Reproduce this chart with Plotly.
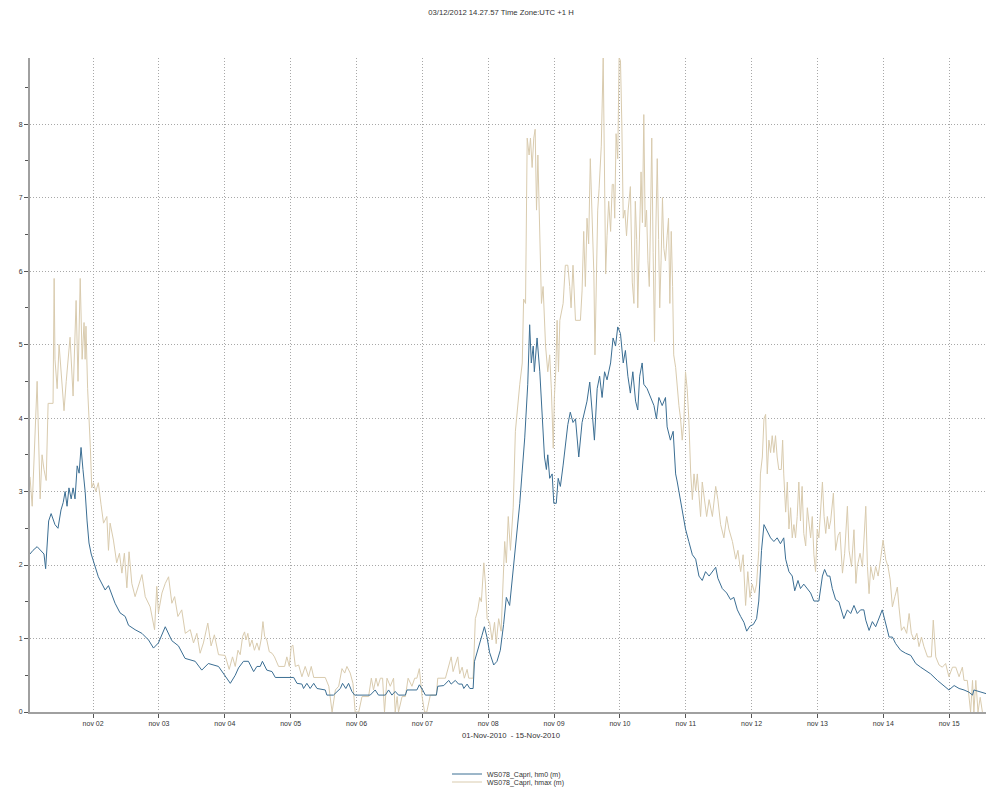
import pandas as pd
import plotly.graph_objects as go

# ---- data (hours after 01-Nov-2010 00:00, wave heights in m) ----
hm0_hours = [1.0, 2.1, 3.6, 5.0, 6.1, 6.7, 7.8, 8.7, 10.1, 11.2, 12.3, 13.1, 13.8, 14.5, 15.2, 16.0, 16.7, 17.4,
             18.2, 18.9, 19.6, 20.3, 21.1, 21.8, 22.5, 23.3, 24.2, 25.9, 28.4, 29.6, 32.0, 33.8, 35.7, 36.9, 39.3,
             41.8, 44.2, 46.0, 47.8, 50.3, 52.7, 55.1, 57.5, 61.2, 63.6, 66.0, 69.7, 72.1, 74.0, 75.8, 77.0, 78.8,
             80.6, 82.5, 83.7, 84.9, 85.7, 87.3, 89.2, 90.4, 97.1, 98.3, 100.1, 100.7, 101.9, 103.1, 104.4, 105.6,
             108.6, 109.2, 111.6, 114.1, 114.9, 116.1, 117.1, 118.3, 119.3, 125.0, 126.8, 128.0, 130.5, 131.7,
             132.9, 134.1, 135.3, 137.8, 138.4, 142.0, 142.9, 144.1, 145.1, 149.1, 149.6, 151.8, 153.6, 154.5,
             156.0, 157.2, 158.5, 159.1, 160.3, 161.3, 162.5, 163.0, 164.5, 165.7, 166.6, 167.6, 168.5, 170.0,
             171.2, 172.4, 173.6, 174.6, 175.8, 177.1, 178.3, 179.5, 180.3, 181.3, 182.4, 183.1, 183.7, 184.4,
             184.8, 185.8, 186.8, 187.6, 188.5, 189.2, 189.7, 190.4, 191.3, 191.9, 192.8, 193.5, 194.3, 195.3,
             196.1, 197.0, 197.9, 198.9, 199.8, 201.0, 202.2, 203.1, 204.0, 205.0, 205.9, 206.7, 207.7, 208.6,
             209.5, 210.4, 211.3, 212.6, 213.5, 214.4, 215.2, 216.2, 217.2, 218.0, 218.9, 219.8, 220.7, 221.7,
             222.5, 223.2, 224.1, 224.7, 225.9, 227.1, 228.4, 229.3, 230.2, 231.4, 232.6, 233.2, 234.4, 235.4,
             236.3, 236.9, 238.1, 239.1, 239.9, 241.1, 242.4, 243.6, 244.8, 246.0, 247.2, 248.5, 249.7, 250.9,
             251.7, 253.3, 254.9, 256.3, 257.5, 258.8, 260.0, 261.2, 262.2, 263.4, 264.6, 265.8, 266.6, 267.6,
             268.5, 269.7, 270.9, 272.1, 273.3, 274.5, 275.7, 276.4, 277.6, 278.8, 279.7, 280.9, 281.8, 283.0,
             284.3, 285.5, 286.7, 288.5, 289.8, 290.6, 291.6, 292.5, 293.4, 294.6, 295.8, 297.6, 298.9, 300.1,
             301.3, 302.5, 303.7, 304.9, 305.6, 306.8, 308.0, 309.2, 311.6, 312.9, 314.1, 315.3, 316.5, 318.3,
             320.1, 322.0, 323.8, 325.6, 327.4, 329.2, 331.7, 334.1, 335.9, 337.8, 339.6, 341.4, 343.2, 344.5,
             345.0, 351.2]
hm0_values = [2.15, 2.2, 2.25, 2.2, 2.15, 1.95, 2.6, 2.7, 2.55, 2.5, 2.75, 2.85, 3.0, 2.8, 3.05, 2.9, 3.05, 2.9,
              3.35, 3.25, 3.6, 3.3, 3.0, 2.6, 2.3, 2.15, 2.05, 1.84, 1.66, 1.72, 1.48, 1.35, 1.3, 1.18, 1.12,
              1.07, 0.98, 0.87, 0.94, 1.16, 0.97, 0.9, 0.73, 0.69, 0.57, 0.66, 0.62, 0.5, 0.39, 0.5, 0.6, 0.69,
              0.69, 0.55, 0.62, 0.62, 0.69, 0.57, 0.55, 0.47, 0.47, 0.39, 0.38, 0.32, 0.39, 0.32, 0.39, 0.32,
              0.3, 0.23, 0.23, 0.32, 0.39, 0.32, 0.39, 0.28, 0.23, 0.23, 0.3, 0.23, 0.23, 0.3,
              0.23, 0.28, 0.23, 0.23, 0.3, 0.3, 0.37, 0.3, 0.23, 0.23, 0.35, 0.36, 0.43, 0.38,
              0.43, 0.38, 0.38, 0.32, 0.38, 0.32, 0.32, 0.69, 0.87, 1.04, 1.16, 1.01, 0.81, 0.64,
              0.69, 0.84, 1.19, 1.56, 1.45, 1.91, 2.37, 2.84, 3.24, 3.73, 4.46, 5.27, 4.75, 4.98,
              4.63, 5.09, 4.63, 3.99, 3.47, 3.3, 3.5, 3.18, 3.24, 2.84, 2.84, 3.18, 3.07, 3.36,
              3.65, 3.91, 4.08, 3.94, 3.99, 3.47, 3.94, 4.11, 4.23, 4.49, 4.05, 3.7, 4.4, 4.57,
              4.28, 4.63, 4.52, 4.75, 5.09, 4.98, 5.24, 5.15, 4.75, 4.92, 4.57, 4.34, 4.63, 4.23,
              4.11, 4.57, 4.75, 4.46, 4.4, 4.28, 4.17, 3.99, 4.28, 4.17, 4.28, 3.88, 3.7, 3.82,
              3.24, 3.13, 2.89, 2.66, 2.49, 2.32, 2.14, 2.08, 1.85, 1.79, 1.91, 1.85, 1.91, 1.97,
              1.82, 1.68, 1.62, 1.53, 1.56, 1.39, 1.3, 1.22, 1.1, 1.17, 1.19, 1.27, 1.51, 2.2,
              2.55, 2.46, 2.37, 2.32, 2.37, 2.29, 2.37, 2.08, 1.91, 1.85, 1.65, 1.79, 1.68, 1.74,
              1.68, 1.62, 1.51, 1.51, 1.85, 1.94, 1.85, 1.85, 1.68, 1.53, 1.5, 1.27, 1.39, 1.34,
              1.45, 1.34, 1.39, 1.39, 1.25, 1.11, 1.23, 1.16, 1.39, 1.2, 1.02, 1.02, 0.93, 0.84,
              0.8, 0.77, 0.66, 0.61, 0.57, 0.52, 0.43, 0.36, 0.3, 0.36, 0.32, 0.3, 0.27, 0.23,
              0.3, 0.23]

hmax_hours = [1.0, 1.8, 3.6, 4.7, 5.4, 6.1, 6.9, 7.6, 9.4, 9.8, 10.1, 10.9, 11.6, 12.3, 13.4, 14.2, 15.6, 16.7,
              17.8, 18.5, 19.3, 20.0, 20.7, 21.1, 21.4, 22.0, 22.5, 23.0, 23.5, 24.1, 25.0, 25.9, 26.9, 27.8,
              29.0, 29.6, 30.2, 31.4, 32.6, 33.6, 34.5, 35.4, 36.3, 37.1, 38.1, 39.3, 41.8, 43.0, 44.8, 46.4,
              47.2, 47.8, 49.1, 50.3, 51.5, 52.7, 53.7, 54.9, 56.3, 57.6, 59.4, 60.6, 61.8, 63.0, 64.2, 65.8,
              67.0, 68.2, 69.7, 72.1, 73.6, 74.8, 75.8, 76.8, 77.6, 78.5, 79.2, 79.7, 80.4, 81.1, 81.9, 82.8,
              83.7, 84.5, 85.3, 85.9, 86.5, 87.3, 88.2, 89.2, 90.1, 91.6, 93.8, 94.6, 95.5, 96.2, 96.8, 97.7,
              98.9, 100.1, 101.3, 102.5, 103.5, 104.4, 108.6, 109.9, 111.1, 112.3, 113.5, 114.7, 115.7, 116.5,
              117.7, 118.7, 119.5, 120.8, 122.0, 124.4, 125.4, 126.2, 127.1, 127.8, 128.7, 129.5, 130.2, 131.1,
              132.3, 133.5, 134.1, 134.8, 135.3, 136.6, 137.8, 138.8, 140.2, 141.2, 142.0, 142.9, 143.9, 144.8,
              145.6, 146.9, 149.1, 149.6, 152.4, 153.2, 154.5, 155.2, 156.0, 156.9, 157.6, 158.5, 159.3, 160.3,
              160.9, 162.5, 163.3, 164.2, 164.9, 165.5, 166.4, 167.0, 167.6, 168.5, 169.4, 170.3, 170.9, 171.8,
              172.7, 173.4, 174.0, 174.6, 175.3, 176.1, 177.1, 177.9, 178.8, 179.5, 180.4, 180.9, 181.6, 182.2,
              182.9, 183.4, 184.0, 184.6, 185.1, 185.6, 186.1, 186.8, 187.4, 188.0, 188.9, 189.7, 190.4, 191.0,
              191.7, 192.1, 192.6, 193.1, 193.6, 194.1, 194.6, 195.3, 196.1, 197.0, 197.7, 198.2, 198.9, 199.8,
              201.6, 202.2, 202.8, 203.4, 204.0, 204.6, 205.2, 205.9, 206.5, 206.9, 207.4, 207.9, 208.4, 209.2,
              209.9, 210.4, 210.8, 211.3, 211.9, 212.6, 213.2, 213.7, 214.1, 214.6, 215.2, 215.7, 216.2, 216.7,
              217.2, 217.8, 218.4, 219.0, 219.8, 220.5, 221.1, 221.6, 222.1, 222.5, 223.2, 223.7, 224.2, 224.7,
              225.2, 225.7, 226.2, 226.7, 227.1, 227.6, 228.1, 228.6, 229.1, 229.6, 230.1, 230.5, 231.0, 231.5,
              232.0, 232.6, 233.2, 233.7, 234.2, 234.7, 235.2, 235.6, 236.3, 236.9, 237.5, 238.1, 238.7, 239.3,
              239.9, 240.5, 241.1, 241.8, 242.4, 243.0, 243.6, 244.2, 244.8, 245.4, 246.0, 246.9, 247.6, 248.5,
              249.7, 250.9, 251.7, 252.7, 253.9, 254.9, 255.7, 257.0, 258.2, 259.0, 260.0, 260.9, 261.8, 262.6,
              263.4, 264.2, 265.1, 265.8, 266.6, 267.2, 267.9, 268.5, 269.1, 269.7, 270.3, 270.9, 271.5, 272.1,
              272.7, 273.3, 273.9, 274.8, 275.3, 275.7, 276.4, 277.0, 277.6, 278.2, 278.8, 279.4, 280.0, 280.6,
              281.2, 281.8, 282.4, 283.0, 283.7, 284.3, 284.9, 285.5, 286.1, 286.7, 287.3, 287.9, 288.5, 289.2,
              289.8, 290.4, 291.0, 291.6, 292.2, 292.8, 293.8, 294.6, 295.5, 296.2, 297.1, 297.9, 298.9, 299.5,
              300.4, 301.3, 302.0, 302.5, 303.5, 304.4, 305.6, 306.2, 306.8, 307.4, 308.4, 309.2, 310.1, 311.1,
              311.9, 312.9, 313.7, 314.5, 315.3, 316.2, 317.1, 317.7, 318.6, 319.5, 320.5, 321.4, 322.2, 323.2,
              324.2, 325.0, 325.9, 326.8, 328.1, 329.5, 330.2, 331.1, 332.3, 333.5, 334.7, 335.9, 337.2, 338.4,
              339.6, 340.8, 341.4, 342.6, 343.8, 344.5, 345.0, 345.7, 346.5, 347.3, 348.1]
hmax_values = [3.2, 2.8, 4.5, 2.9, 3.5, 3.3, 3.15, 4.2, 4.2, 5.9, 4.8, 4.4, 5.0, 4.6, 4.1, 4.5, 5.1, 4.3,
               5.6, 4.5, 5.9, 4.8, 5.3, 4.8, 5.25, 4.4, 4.05, 3.6, 3.05, 3.12, 3.0, 3.12, 2.82, 2.57,
               2.66, 2.2, 2.57, 2.34, 2.03, 2.16, 1.89, 2.16, 1.69, 2.18, 1.75, 1.57, 1.87, 1.57, 1.43, 1.12,
               1.71, 1.35, 1.62, 1.75, 1.84, 1.48, 1.57, 1.3, 1.39, 1.07, 1.12, 0.94, 1.07, 0.8, 0.94, 1.21,
               0.9, 1.05, 0.78, 0.77, 0.58, 0.75, 0.62, 0.84, 0.78, 1.03, 1.09, 0.98, 1.07, 0.89, 0.98, 0.84,
               0.94, 0.84, 1.0, 1.23, 1.03, 0.98, 0.82, 0.8, 0.75, 0.62, 0.62, 0.75, 0.62, 0.89, 0.91, 0.62,
               0.64, 0.48, 0.62, 0.48, 0.62, 0.47, 0.47, 0.35, 0.0, 0.3, 0.35, 0.59, 0.53, 0.62,
               0.53, 0.39, 0.0, 0.0, 0.21, 0.21, 0.46, 0.3, 0.46, 0.35, 0.46, 0.46, 0.0, 0.46,
               0.35, 0.46, 0.0, 0.21, 0.0, 0.21, 0.21, 0.46, 0.35, 0.46, 0.46, 0.59, 0.21, 0.0,
               0.0, 0.23, 0.23, 0.46, 0.46, 0.58, 0.75, 0.55, 0.64, 0.75, 0.52, 0.61, 0.46, 0.58,
               0.46, 0.46, 1.27, 1.39, 1.56, 1.5, 2.03, 1.74, 1.27, 1.22, 0.98, 1.22, 0.93, 1.27,
               1.1, 1.79, 2.32, 2.03, 2.66, 2.2, 2.78, 3.82, 4.23, 4.46, 4.75, 5.62, 5.56, 7.81,
               7.58, 7.81, 7.41, 7.81, 7.93, 6.83, 7.58, 6.25, 5.56, 5.79, 4.98, 4.63, 4.86, 4.4,
               3.59, 4.28, 4.63, 5.33, 4.63, 5.33, 5.44, 5.56, 6.08, 6.08, 5.79, 5.5, 6.08, 5.33,
               5.33, 5.73, 6.54, 5.79, 6.72, 6.37, 7.53, 6.72, 5.96, 4.86, 6.02, 6.83, 7.12, 7.7,
               8.91, 7.47, 5.96, 6.48, 6.95, 6.54, 7.18, 7.18, 6.72, 7.87, 7.53, 8.91, 8.86, 7.99,
               6.72, 6.83, 6.48, 6.83, 7.15, 5.85, 5.56, 6.95, 6.43, 5.5, 6.72, 7.35, 6.66, 8.13,
               6.6, 6.83, 6.14, 5.79, 6.6, 7.81, 6.25, 5.04, 6.6, 7.53, 6.43, 5.5, 6.14, 7.0,
               6.31, 6.14, 6.48, 6.72, 5.56, 6.54, 5.79, 4.86, 4.69, 4.4, 4.17, 3.99, 3.7, 3.94,
               4.63, 4.4, 3.99, 3.24, 2.89, 3.24, 3.01, 3.24, 2.89, 2.66, 3.13, 2.89, 2.66, 2.89,
               2.66, 3.07, 2.89, 2.55, 2.37, 2.66, 2.49, 2.32, 2.08, 2.2, 1.91, 2.14, 1.45, 1.91,
               1.56, 1.74, 1.62, 1.74, 2.2, 3.24, 3.47, 3.99, 4.05, 3.24, 3.7, 3.53, 3.76, 3.53,
               3.76, 3.47, 3.3, 3.3, 3.7, 3.24, 2.72, 3.13, 2.49, 2.78, 2.37, 2.55, 2.37, 2.66,
               3.13, 2.6, 3.07, 2.43, 2.26, 2.78, 2.6, 2.37, 2.66, 2.14, 1.91, 2.49, 2.37, 2.72,
               3.13, 2.66, 2.43, 2.66, 2.49, 2.6, 2.98, 2.2, 2.4, 2.45, 1.89, 2.16, 2.8, 2.2,
               1.98, 2.48, 1.75, 1.98, 2.16, 1.98, 2.8, 1.98, 1.61, 1.98, 1.8, 1.98, 1.85, 2.11,
               2.34, 2.07, 1.98, 1.8, 1.43, 1.57, 1.7, 1.43, 1.11, 1.16, 1.07, 1.34, 1.07, 0.98,
               1.07, 0.89, 1.02, 0.89, 0.75, 0.75, 1.25, 0.75, 0.64, 0.61, 0.66, 0.48, 0.61, 0.61,
               0.48, 0.61, 0.43, 0.43, 0.0, 0.43, 0.0, 0.43, 0.0, 0.2, 0.0]

day_ticks = ["2010-11-%02d" % d for d in range(2, 16)]
day_labels = ["nov %02d" % d for d in range(2, 16)]

series_names = ["WS078_Capri, hm0 (m)", "WS078_Capri, hmax (m)"]
chart_title = "03/12/2012 14.27.57 Time Zone:UTC +1 H"
x_title = "01-Nov-2010  - 15-Nov-2010"

start = pd.Timestamp("2010-11-01 00:00")
hm0_t = start + pd.to_timedelta(hm0_hours, unit="h")
hmax_t = start + pd.to_timedelta(hmax_hours, unit="h")

FONT = "Liberation Sans, Arial, sans-serif"
C_HM0 = "#3b6e93"
C_HMAX = "#d9cbae"

# page body has an 8px margin: figure is 986x792 so it fills the 994x800 window
W, H = 986, 792
ML, MR, MT, MB = 22, 2, 50, 88
PW, PH = W - ML - MR, H - MT - MB


def px_x(page_x):
    return (page_x - 8 - ML) / PW


def px_y(page_y):
    return (H - MB - (page_y - 8)) / PH


fig = go.Figure()
fig.add_trace(go.Scatter(x=hmax_t, y=hmax_values, mode="lines", name=series_names[1],
                         line=dict(color=C_HMAX, width=1), legend="legend2"))
fig.add_trace(go.Scatter(x=hm0_t, y=hm0_values, mode="lines", name=series_names[0],
                         line=dict(color=C_HM0, width=1), legend="legend"))

leg_common = dict(orientation="v", xanchor="left", yanchor="middle",
                  font=dict(family=FONT, size=7, color="#333333"), itemwidth=30,
                  bgcolor="rgba(0,0,0,0)", borderwidth=0)

fig.update_layout(
    width=W, height=H,
    margin=dict(l=ML, r=MR, t=MT, b=MB, autoexpand=False),
    paper_bgcolor="white", plot_bgcolor="white",
    font=dict(family=FONT, size=7, color="#333333"),
    title=dict(text=chart_title, x=0.5, xanchor="center", y=1 - 4 / H, yanchor="middle",
               font=dict(family=FONT, size=7.7, color="#333333")),
    showlegend=True,
    legend=dict(x=px_x(447), y=px_y(774), **leg_common),
    legend2=dict(x=px_x(447), y=px_y(782), **leg_common),
    xaxis=dict(
        type="date",
        range=[start + pd.Timedelta(hours=1.0), start + pd.Timedelta(hours=351.6)],
        tickmode="array", tickvals=day_ticks, ticktext=day_labels,
        showline=True, linecolor="#a0a0a0", linewidth=2,
        ticks="outside", ticklen=4, tickcolor="#555555", tickwidth=1,
        showgrid=True, gridcolor="#a8a8a8", griddash="1px,2px", gridwidth=1,
        zeroline=False,
        tickfont=dict(family=FONT, size=7, color="#333333"),
        title=dict(text=x_title, font=dict(family=FONT, size=7.7, color="#333333"), standoff=6),
        automargin=False,
    ),
    yaxis=dict(
        range=[0, 8.9], tick0=0, dtick=1,
        showline=True, linecolor="#a0a0a0", linewidth=2,
        ticks="outside", ticklen=4, tickcolor="#555555", tickwidth=1,
        minor=dict(dtick=0.5, tick0=0, ticks="outside", ticklen=3, tickcolor="#555555", showgrid=False),
        showgrid=True, gridcolor="#a8a8a8", griddash="1px,2px", gridwidth=1,
        zeroline=False,
        tickfont=dict(family=FONT, size=7, color="#333333"),
        automargin=False,
    ),
)

fig.write_html("out.html")
